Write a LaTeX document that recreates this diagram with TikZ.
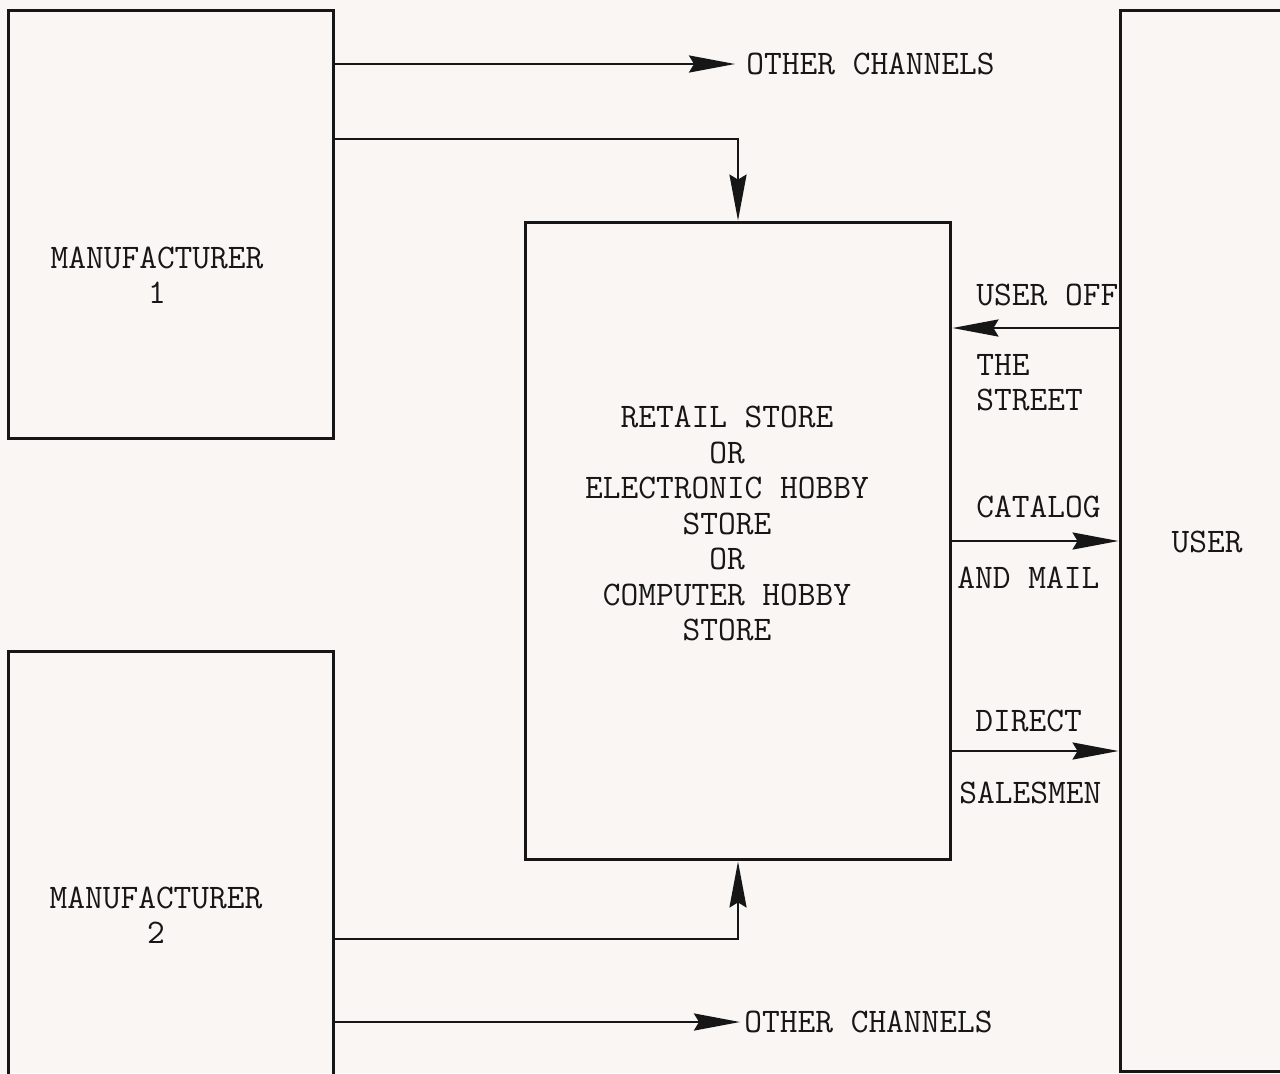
\documentclass[tikz,border=0pt]{standalone}
\usepackage{xcolor}
\usepackage{tikz}
\usetikzlibrary{arrows.meta, positioning, calc}
\definecolor{mypaper}{RGB}{249,246,244}
\definecolor{myink}{RGB}{22,22,22}
\tikzset{
  box/.style={rectangle, draw=myink, line width=1.7pt, inner sep=0pt},
  txt/.style={inner sep=0pt, text=myink,
    font=\fontsize{19.6}{20.2}\selectfont\ttfamily},
  chan/.style={txt, anchor=west, inner xsep=0.22cm},
  arrow/.style={-{Stealth[length=0.92cm, width=0.34cm, inset=0.1cm]},
    line width=1.5pt, color=myink}
}

\begin{document}
\begin{tikzpicture}[x=0.02cm, y=-0.02cm]
  \path[use as bounding box, fill=mypaper] (0,0) rectangle (1280,1073);
  % Boxes
  \node[box, minimum width=6.52cm, minimum height=8.58cm] (m1) at (171,224.5) {};
  \node[box, minimum width=6.52cm, minimum height=8.58cm] (m2) at (171,865.5) {};
  \node[box, minimum width=8.52cm, minimum height=12.76cm] (store) at (738,541) {};
  \node[box, minimum width=3.4cm, minimum height=21.24cm] (user) at (1205,541) {};
  % Box texts
  \node[txt, align=center] (m1lbl) at (157,275) {MANUFACTURER\\1};
  \node[txt, align=center] (m2lbl) at (156,915) {MANUFACTURER\\2};
  \node[txt, align=center] (storelbl) at (727,523.5)
    {RETAIL STORE\\OR\\ELECTRONIC HOBBY\\STORE\\OR\\COMPUTER HOBBY\\STORE};
  \node[txt] (userlbl) at (1207,542) {USER};
  \node[chan] (oc1) at (735,64) {OTHER CHANNELS};
  \node[chan, inner xsep=0.08cm] (oc2) at (740,1022) {OTHER CHANNELS};
  % Channel labels
  \node[txt, anchor=west] (offlbl) at (976,295) {USER OFF};
  \node[txt, anchor=west, align=left] (streetlbl) at (976,382.5) {THE\\STREET};
  \node[txt, anchor=west] (catlbl) at (976,507) {CATALOG};
  \node[txt, anchor=west] (maillbl) at (957,578) {AND MAIL};
  \node[txt, anchor=west] (dirlbl) at (975,721) {DIRECT};
  \node[txt, anchor=west] (saleslbl) at (959,793) {SALESMEN};
  % Connectors
  \draw[arrow] (m1.east |- oc1.west) -- (oc1.west);
  \draw[arrow] (m1.east |- 0,139) -| (store.north);
  \draw[arrow] (user.west |- 0,328) -- (store.east |- 0,328);
  \draw[arrow] (store.east) -- (user.west);
  \draw[arrow] (store.east |- 0,751) -- (user.west |- 0,751);
  \draw[arrow] (m2.east |- 0,939) -| (store.south);
  \draw[arrow] (m2.east |- oc2.west) -- (oc2.west);
\end{tikzpicture}
\end{document}
